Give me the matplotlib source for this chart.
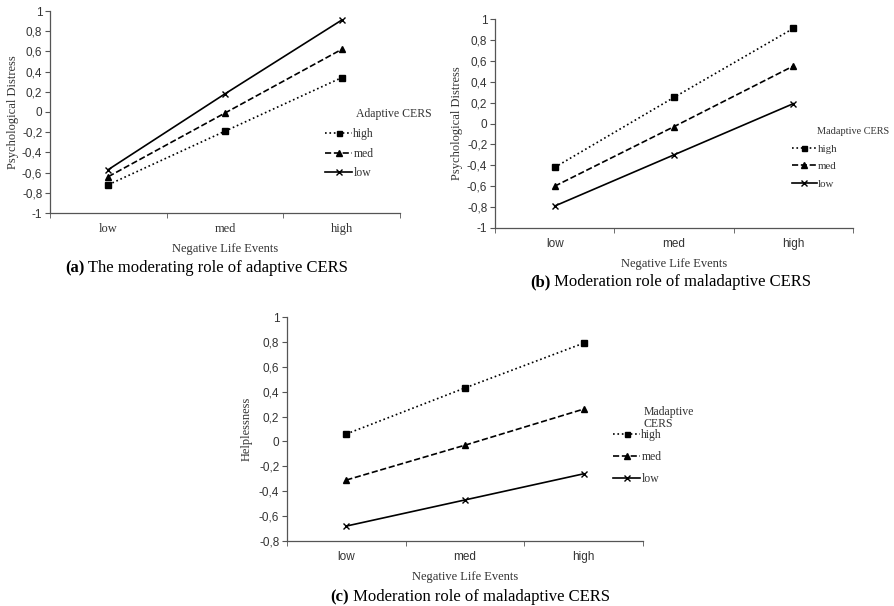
import matplotlib
matplotlib.use("Agg")
import matplotlib.pyplot as plt
from matplotlib.ticker import FixedLocator, FuncFormatter

categories = ["low", "med", "high"]
series_names = ["high", "med", "low"]

a_high = [-0.72, -0.19, 0.34]
a_med = [-0.64, -0.01, 0.62]
a_low = [-0.57, 0.18, 0.91]

b_high = [-0.42, 0.25, 0.91]
b_med = [-0.60, -0.03, 0.55]
b_low = [-0.79, -0.30, 0.19]

c_high = [0.06, 0.43, 0.79]
c_med = [-0.31, -0.03, 0.26]
c_low = [-0.68, -0.47, -0.26]

SERIF = "Liberation Serif"
SANS = "Liberation Sans"
TXT = "#333333"
AX = "#555555"

W, H = 894, 606
fig = plt.figure(figsize=(W / 100, H / 100), dpi=100)


def fx(px):
    return px / W


def fy(py):
    return 1 - py / H


styles = [(":", "s", 4.5), ("--", "^", 5), ("-", "x", 5)]


def make_panel(rect_px, data, ylim, yticks, ylabel, tickfont, legend_title,
               legend_px, ylabel_x_px, lfs, tfs, lsp):
    l, t, r, b = rect_px
    ax = fig.add_axes([fx(l), fy(b), fx(r - l), (b - t) / H])
    x = [1, 2, 3]
    handles = []
    for (ls, mk, ms), vals, name in zip(styles, data, series_names):
        h, = ax.plot(x, vals, linestyle=ls, marker=mk, markersize=ms,
                     color="black", linewidth=1.2, markeredgewidth=1.0,
                     label=name)
        handles.append(h)
    ax.set_xlim(0.5, 3.5)
    ax.set_ylim(*ylim)
    ax.yaxis.set_major_locator(FixedLocator(yticks))
    ax.yaxis.set_major_formatter(FuncFormatter(
        lambda v, p: ("%g" % round(v, 1)).replace(".", ",")))
    ax.set_xticks(x)
    ax.set_xticklabels(categories)
    ax.xaxis.set_minor_locator(FixedLocator([0.5, 1.5, 2.5, 3.5]))
    ax.tick_params(axis="x", which="major", length=0, pad=7,
                   labelsize=8.5, labelcolor=TXT)
    ax.tick_params(axis="x", which="minor", length=3.5, color=AX,
                   direction="out")
    ax.tick_params(axis="y", length=3.5, color=AX, labelsize=8.5,
                   labelcolor=TXT, pad=2)
    for lab in ax.get_xticklabels() + ax.get_yticklabels():
        lab.set_family(SANS)
    if tickfont == "serif":
        for lab in ax.get_xticklabels():
            lab.set_family(SERIF)
            lab.set_fontsize(9)
    for s in ["top", "right"]:
        ax.spines[s].set_visible(False)
    for s in ["left", "bottom"]:
        ax.spines[s].set_color(AX)
        ax.spines[s].set_linewidth(0.9)
    ax.set_xlabel("Negative Life Events", family=SERIF, fontsize=9,
                  color=TXT, labelpad=6)
    ax.set_ylabel(ylabel, family=SERIF, fontsize=9, color=TXT)
    ax.yaxis.label.set_va("center")
    ax.yaxis.set_label_coords((ylabel_x_px - l) / (r - l), 0.5)
    lx, ly, tx, ty = legend_px
    fig.text(fx(tx), fy(ty), legend_title, family=SERIF, fontsize=tfs,
             color=TXT, ha="left", va="center", linespacing=1.0)
    ax.legend(handles=handles, loc="upper left",
              bbox_to_anchor=(fx(lx), fy(ly)), bbox_transform=fig.transFigure,
              frameon=False, prop={"family": SERIF, "size": lfs},
              handlelength=2.3, handletextpad=0.1, labelspacing=lsp,
              borderpad=0, borderaxespad=0, markerscale=0.8,
              labelcolor=TXT)
    return ax


make_panel((50, 11, 400, 213), [a_high, a_med, a_low], (-1, 1),
           [-1 + 0.2 * i for i in range(11)], "Psychological Distress",
           "serif", "Adaptive CERS", (325, 128, 356, 114), 13, 8.5, 8.5, 0.65)
make_panel((495, 19, 853, 228), [b_high, b_med, b_low], (-1, 1),
           [-1 + 0.2 * i for i in range(11)], "Psychological Distress",
           "sans", "Madaptive CERS", (792, 144, 817, 132), 457, 7.8, 7.4,
           0.75)
make_panel((287, 317, 643, 541), [c_high, c_med, c_low], (-0.8, 1),
           [-0.8 + 0.2 * i for i in range(10)], "Helplessness",
           "sans", "Madaptive\nCERS", (613, 429, 644, 418), 247, 8.5, 8.5,
           0.85)


def caption(x_px, y_px, bold, rest):
    t1 = fig.text(fx(x_px), fy(y_px), bold, family=SERIF, fontsize=12,
                  fontweight="bold", ha="left", va="center", color="black")
    plt.annotate(rest, xy=(1, 0.5), xycoords=t1, va="center", ha="left",
                 family=SERIF, fontsize=12, color="black",
                 annotation_clip=False)


caption(65, 268, "(a)", " The moderating role of adaptive CERS")
caption(530, 282, "(b)", " Moderation role of maladaptive CERS")
caption(330, 597, "(c)", " Moderation role of maladaptive CERS")

fig.savefig("out.png", dpi=100)
